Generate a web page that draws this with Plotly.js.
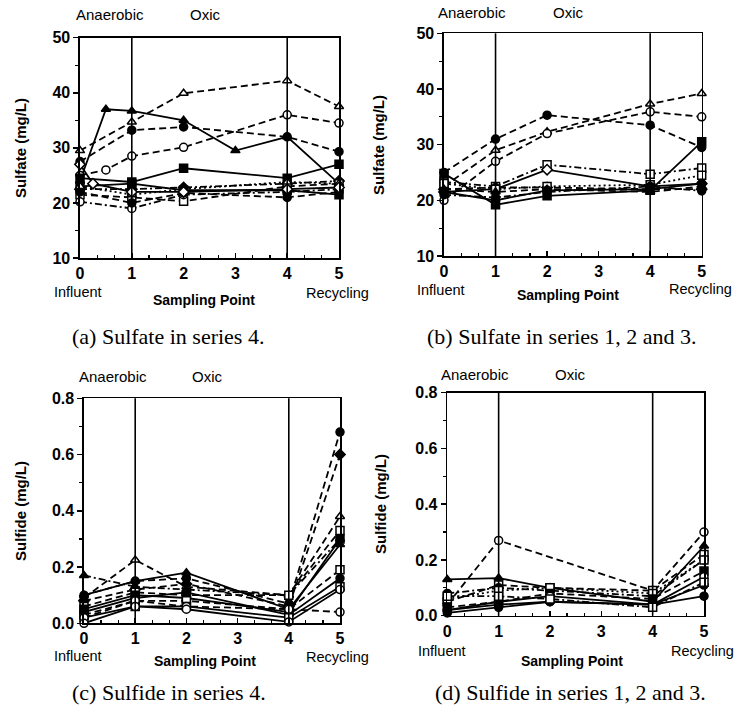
<!DOCTYPE html>
<html><head><meta charset="utf-8">
<script src="https://cdn.plot.ly/plotly-3.0.1.min.js"></script>
<style>html,body{margin:0;padding:0;background:#fff}#chart{width:745px;height:709px}</style>
</head><body><div id="chart"></div>
<script>
// ---------- data ----------
const xMain = [0, 1, 2, 4, 5];
const xHalf = [0, 0.5, 1, 2, 4, 5];
const xA2 = [0, 0.5, 1, 2, 3, 4, 5];
const xA12 = [0, 0.25, 1, 2, 4, 5];
const xD1 = [0, 1, 4, 5];
const xTickLabels = ['0', '1', '2', '3', '4', '5'];

// (a) Sulfate in series 4 (mg/L)
const a1 = [29.5, 34.7, 39.9, 42.2, 37.5];
const a2 = [24, 37, 36.7, 35, 29.5, 32, 23.5];
const a3 = [27.5, 33.2, 33.8, 32, 29.3];
const a4 = [25, 26, 28.5, 30.1, 36, 34.5];
const a5 = [24.5, 23.8, 26.3, 24.5, 27];
const a6 = [22.5, 22.5, 22.8, 23.5, 24];
const a7 = [21.5, 21, 20.3, 23, 23.5];
const a8 = [20.2, 19, 21.5, 22, 22.5];
const a9 = [22, 20, 21.8, 21, 22];
const a10 = [23, 23.5, 22.3, 22.3, 21.5];
const a11 = [23, 21.5, 22.5, 23.8, 23.5];
const a12 = [27, 23.5, 22, 22, 22.5, 22.8];

// (b) Sulfate in series 1, 2 and 3 (mg/L)
const b1 = [22.5, 29, 32.3, 37.3, 39.2];
const b2 = [25, 31, 35.3, 33.5, 29.5];
const b3 = [20, 27, 32, 35.9, 35];
const b4 = [23.3, 22.5, 26.4, 24.7, 25.8];
const b5 = [24.8, 19.2, 20.8, 21.8, 30.5];
const b6 = [21.5, 22, 25.5, 22.5, 23];
const b7 = [22, 22.3, 22.3, 22, 22];
const b8 = [23, 22, 22.5, 22.8, 24.5];
const b9 = [21, 20.5, 21.5, 22.5, 21.7];
const b10 = [22, 21.5, 22, 21.5, 22.5];
const b11 = [21.5, 20, 21.8, 22, 23];

// (c) Sulfide in series 4 (mg/L)
const c1 = [0.09, 0.225, 0.13, 0.10, 0.38];
const c2 = [0.17, 0.13, 0.12, 0.10, 0.30];
const c3 = [0.10, 0.15, 0.16, 0.07, 0.68];
const c4 = [0.08, 0.12, 0.14, 0.06, 0.60];
const c5 = [0.10, 0.15, 0.18, 0.05, 0.28];
const c6 = [0.06, 0.11, 0.10, 0.10, 0.33];
const c7 = [0.05, 0.10, 0.09, 0.04, 0.30];
const c8 = [0.03, 0.08, 0.08, 0.05, 0.19];
const c9 = [0.04, 0.09, 0.11, 0.03, 0.16];
const c10 = [0.02, 0.06, 0.06, 0.02, 0.13];
const c11 = [0.02, 0.08, 0.06, 0.05, 0.04];
const c12 = [0.00, 0.06, 0.05, 0.005, 0.12];

// (d) Sulfide in series 1, 2 and 3 (mg/L)
const d1 = [0.04, 0.27, 0.09, 0.30];
const d2 = [0.13, 0.135, 0.10, 0.05, 0.25];
const d3 = [0.05, 0.11, 0.10, 0.09, 0.22];
const d4 = [0.08, 0.10, 0.09, 0.07, 0.20];
const d5 = [0.06, 0.09, 0.10, 0.08, 0.20];
const d6 = [0.03, 0.05, 0.08, 0.06, 0.16];
const d7 = [0.02, 0.05, 0.07, 0.04, 0.14];
const d8 = [0.01, 0.03, 0.05, 0.04, 0.11];
const d9 = [0.02, 0.04, 0.05, 0.04, 0.07];
const d10 = [0.07, 0.07, 0.06, 0.03, 0.12];

// ---------- styles ----------
const DASH = '7px,4px', DASHDOT = '7px,3px,2px,3px', DOT = '2px,3px';
function tr(x, y, ax, dash, sym, open) {
  return {
    x: x, y: y, xaxis: 'x' + ax, yaxis: 'y' + ax, type: 'scatter', mode: 'lines+markers',
    cliponaxis: false, showlegend: false,
    line: {color: '#000', width: 1.8, dash: dash},
    marker: {symbol: sym, size: 8, color: open ? '#fff' : '#000', line: {color: '#000', width: 1.5}}
  };
}
const traces = [
  tr(xMain, a1, '', DASH, 'triangle-up', true),
  tr(xA2, a2, '', 'solid', 'triangle-up', false),
  tr(xMain, a3, '', DASH, 'circle', false),
  tr(xHalf, a4, '', DASH, 'circle', true),
  tr(xMain, a5, '', 'solid', 'square', false),
  tr(xMain, a6, '', DASHDOT, 'diamond', false),
  tr(xMain, a7, '', DASH, 'square', true),
  tr(xMain, a8, '', DASHDOT, 'circle', true),
  tr(xMain, a9, '', DASH, 'circle', false),
  tr(xMain, a10, '', 'solid', 'square', false),
  tr(xMain, a11, '', DOT, 'triangle-up', true),
  tr(xA12, a12, '', 'solid', 'diamond', true),

  tr(xMain, b1, '2', DASH, 'triangle-up', true),
  tr(xMain, b2, '2', DASH, 'circle', false),
  tr(xMain, b3, '2', DASH, 'circle', true),
  tr(xMain, b4, '2', DASHDOT, 'square', true),
  tr(xMain, b5, '2', 'solid', 'square', false),
  tr(xMain, b6, '2', 'solid', 'diamond', true),
  tr(xMain, b7, '2', DASH, 'diamond', false),
  tr(xMain, b8, '2', DOT, 'square', true),
  tr(xMain, b9, '2', DASHDOT, 'circle', false),
  tr(xMain, b10, '2', DASH, 'triangle-up', false),
  tr(xMain, b11, '2', 'solid', 'circle', false),

  tr(xMain, c1, '3', DASH, 'triangle-up', true),
  tr(xMain, c2, '3', DASHDOT, 'triangle-up', false),
  tr(xMain, c3, '3', DASH, 'circle', false),
  tr(xMain, c4, '3', DASH, 'diamond', false),
  tr(xMain, c5, '3', 'solid', 'triangle-up', false),
  tr(xMain, c6, '3', DASH, 'square', true),
  tr(xMain, c7, '3', 'solid', 'square', false),
  tr(xMain, c8, '3', DASH, 'square', true),
  tr(xMain, c9, '3', 'solid', 'circle', false),
  tr(xMain, c10, '3', 'solid', 'square', true),
  tr(xMain, c11, '3', DASH, 'circle', true),
  tr(xMain, c12, '3', 'solid', 'circle', true),

  tr(xD1, d1, '4', DASH, 'circle', true),
  tr(xMain, d2, '4', 'solid', 'triangle-up', false),
  tr(xMain, d3, '4', DASH, 'square', true),
  tr(xMain, d4, '4', DASHDOT, 'circle', false),
  tr(xMain, d5, '4', DOT, 'square', true),
  tr(xMain, d6, '4', DASH, 'square', false),
  tr(xMain, d7, '4', 'solid', 'circle', true),
  tr(xMain, d8, '4', 'solid', 'circle', false),
  tr(xMain, d9, '4', 'solid', 'circle', false),
  tr(xMain, d10, '4', DASHDOT, 'square', true)
];

// ---------- layout ----------
const W = 745, H = 709;
const px = v => v / W, py = v => 1 - v / H;
const SANS = 'Liberation Sans, Arial, sans-serif';
const SERIF = 'Liberation Serif, Times New Roman, serif';

function xax(d0, d1, anchor) {
  return {domain: [px(d0), px(d1)], anchor: anchor, range: [0, 5], tickvals: [0,1,2,3,4,5], ticktext: xTickLabels,
    showline: true, mirror: true, linecolor: '#000', linewidth: 1.6, ticks: 'inside', ticklen: 5, tickwidth: 1.5,
    tickcolor: '#000', showgrid: false, zeroline: false, fixedrange: true,
    tickfont: {family: SANS, size: 16, color: '#000', weight: 'bold'},
    minor: {dtick: 1/3, tick0: 0, ticks: 'inside', ticklen: 3, tickwidth: 1.2, tickcolor: '#000', showgrid: false}};
}
function yax(t0, t1, anchor, range, dtick, fmt) {
  return {domain: [py(t1), py(t0)], anchor: anchor, range: range, dtick: dtick, tick0: range[0], tickformat: fmt,
    showline: true, mirror: true, linecolor: '#000', linewidth: 1.6, ticks: 'outside', ticklen: 5, tickwidth: 1.5,
    tickcolor: '#000', showgrid: false, zeroline: false, fixedrange: true,
    tickfont: {family: SANS, size: 16, color: '#000', weight: 'bold'},
    minor: {dtick: dtick / 2, ticks: 'outside', ticklen: 3, tickwidth: 1.2, tickcolor: '#000', showgrid: false}};
}

const ann = [];
function txt(x, y, s, size, bold, fam, angle) {
  ann.push({xref: 'paper', yref: 'paper', x: px(x), y: py(y), text: s, showarrow: false,
    xanchor: 'center', yanchor: 'middle', textangle: angle || 0,
    font: {family: fam || SANS, size: size, color: '#000', weight: bold ? 'bold' : 'normal'}});
}
const panels = [
  {an: [110, 15], ox: [205, 15], inf: [78, 292], sp: [204, 300], rec: [337, 293], yt: [20, 148], yl: 'Sulfate (mg/L)', cap: [168, 337], ct: '(a) Sulfate in series 4.'},
  {an: [472, 13], ox: [568, 13], inf: [441, 290], sp: [568, 295], rec: [700, 289], yt: [378, 145], yl: 'Sulfate (mg/L)', cap: [561, 337], ct: '(b) Sulfate in series 1, 2 and 3.'},
  {an: [113, 377], ox: [207, 377], inf: [78, 656], sp: [205, 661], rec: [337, 657], yt: [20, 511], yl: 'Sulfide (mg/L)', cap: [169, 692], ct: '(c) Sulfide in series 4.'},
  {an: [475, 375], ox: [570, 375], inf: [442, 651], sp: [572, 661], rec: [702, 651], yt: [380, 504], yl: 'Sulfide (mg/L)', cap: [570, 692], ct: '(d) Sulfide in series 1, 2 and 3.'}
];
panels.forEach(p => {
  txt(p.an[0], p.an[1], 'Anaerobic', 15, false);
  txt(p.ox[0], p.ox[1], 'Oxic', 15, false);
  txt(p.inf[0], p.inf[1], 'Influent', 14.5, false);
  txt(p.sp[0], p.sp[1], 'Sampling Point', 14, true);
  txt(p.rec[0], p.rec[1], 'Recycling', 14.5, false);
  txt(p.yt[0], p.yt[1], p.yl, 15, true, SANS, -90);
  txt(p.cap[0], p.cap[1], p.ct, 22, false, SERIF);
});

const shapes = [];
['', '2', '3', '4'].forEach(s => {
  [1, 4].forEach(v => shapes.push({type: 'line', xref: 'x' + s, yref: 'y' + s + ' domain', x0: v, x1: v, y0: 0, y1: 1,
    line: {color: '#000', width: 1.6}}));
});

const layout = {
  width: W, height: H, margin: {l: 0, r: 0, t: 0, b: 0}, paper_bgcolor: '#fff', plot_bgcolor: '#fff',
  showlegend: false,
  xaxis: xax(80, 339, 'y'), yaxis: yax(37.7, 258, 'x', [10, 50], 10, 'd'),
  xaxis2: xax(444, 701.7, 'y2'), yaxis2: yax(33.3, 256, 'x2', [10, 50], 10, 'd'),
  xaxis3: xax(84, 340, 'y3'), yaxis3: yax(398.3, 623.3, 'x3', [0, 0.8], 0.2, '.1f'),
  xaxis4: xax(447.3, 704, 'y4'), yaxis4: yax(392.7, 615.7, 'x4', [0, 0.8], 0.2, '.1f'),
  annotations: ann, shapes: shapes
};
Plotly.newPlot('chart', traces, layout, {displayModeBar: false, staticPlot: true});
</script></body></html>
